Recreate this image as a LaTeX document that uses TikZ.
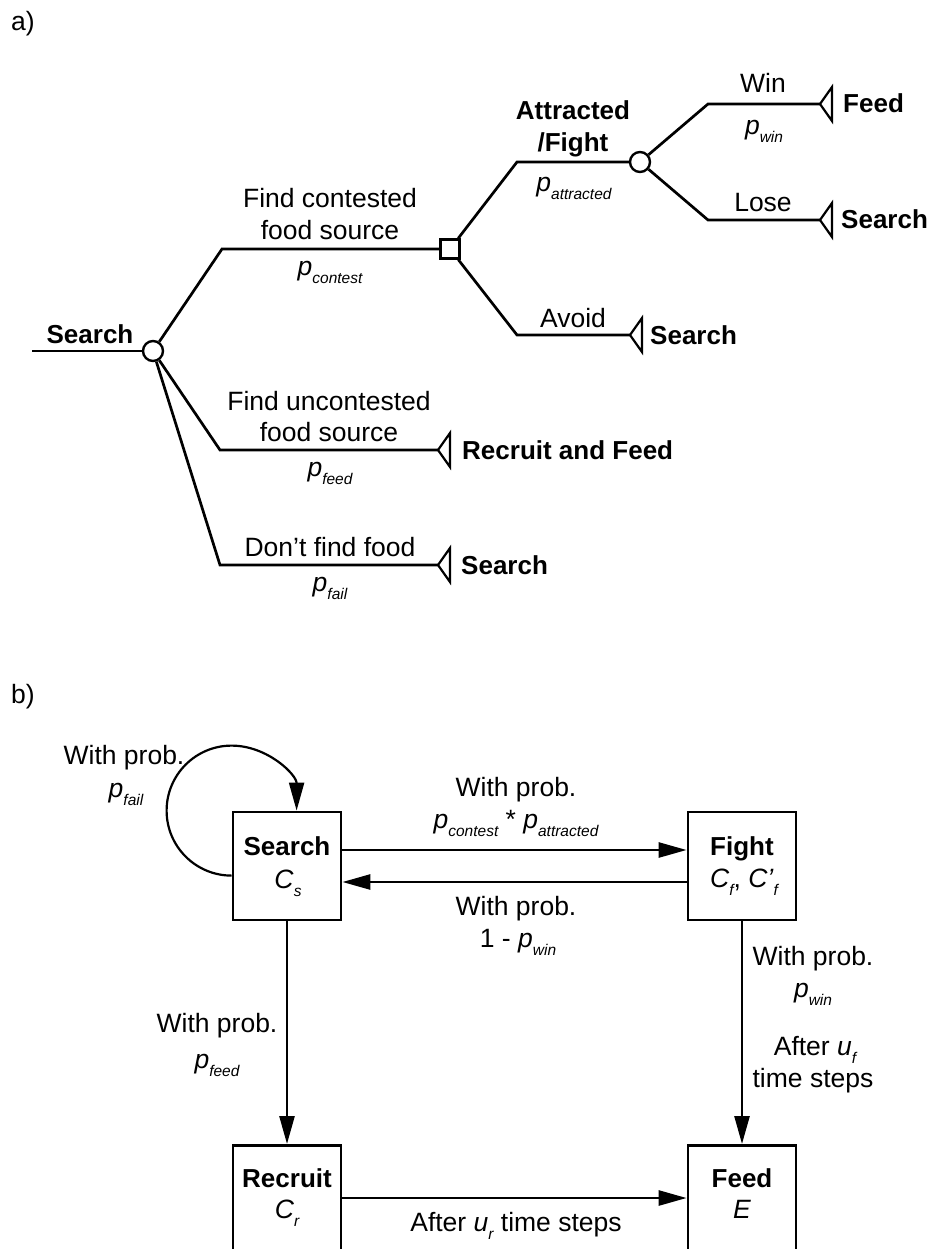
\documentclass[tikz,border=0pt]{standalone}
\usepackage{fontspec}
\setmainfont{Liberation Sans}
\usetikzlibrary{arrows.meta,calc}
\newcommand{\sbs}[1]{\raisebox{-8pt}{\fontsize{15.5}{16}\selectfont\itshape #1}}
\newcommand{\pv}[1]{\textit{p}\sbs{#1}}
\begin{document}
\begin{tikzpicture}[x=1pt,y=-1pt,
  lbl/.style={font=\fontsize{26.5}{32}\selectfont, inner sep=0pt, anchor=base},
  blbl/.style={lbl, font=\fontsize{26}{32}\selectfont\bfseries},
  wlbl/.style={blbl, anchor=base west},
  branch/.style={line width=2.7pt, line join=miter},
  chance/.style={circle, draw, line width=2.4pt, minimum size=20pt, inner sep=0pt},
  decision/.style={rectangle, draw, line width=2.4pt, minimum size=19pt, inner sep=0pt},
  term/.pic={\draw[line width=2.2pt, line join=miter] (0,0) -- (12,-17) -- (12,17) -- cycle;},
  statebox/.style={rectangle, draw, line width=2.8pt, minimum width=108pt, minimum height=108pt, inner sep=0pt},
  arr/.style={line width=2.6pt, -{Triangle[length=28pt,width=15pt]}},
  selfarc/.style={line width=2.2pt, -{Triangle[length=28pt,width=15pt]}},
]
\useasboundingbox (0,0) rectangle (932,1249);
\clip (0,0) rectangle (932,1249);

% ---------- part a ----------
\node[lbl, anchor=base west] (la) at (11,31) {a)};

\coordinate (r0) at (32,351);
\node[chance] (c1) at (153,351) {};
\node[blbl] (lsearch) at (90,343) {Search};
\draw[branch] (r0) -- (c1);

% contested
\coordinate (k1) at (222,249);
\node[decision] (sq) at (450,249) {};
\draw[branch] (c1) -- (k1) -- (sq);
\node[lbl] (l1a) at (330,208) {Find contested};
\node[lbl] (l1b) at (330,240) {food source};
\node[lbl] (l1p) at (330,275) {\pv{contest}};

% uncontested
\coordinate (k2) at (220,450);
\coordinate (t2) at (438,450);
\draw[branch] (c1) -- (k2) -- (t2);
\pic at (t2) {term};
\node[lbl] (l2a) at (329,410) {Find uncontested};
\node[lbl] (l2b) at (329,441) {food source};
\node[lbl] (l2p) at (330,476) {\pv{feed}};
\node[wlbl] (e2) at (462,459) {Recruit and Feed};

% fail
\coordinate (k3) at (220,565);
\coordinate (t3) at (438,565);
\draw[branch] (c1) -- (k3) -- (t3);
\pic at (t3) {term};
\node[lbl] (l3a) at (330,556) {Don’t find food};
\node[lbl] (l3p) at (330,591) {\pv{fail}};
\node[wlbl] (e3) at (461,574) {Search};

% attracted / fight
\coordinate (k4) at (517,162);
\node[chance] (c2) at (640,162) {};
\draw[branch] (sq) -- (k4) -- (c2);
\node[blbl] (l4a) at (573,120) {Attracted};
\node[blbl] (l4b) at (573,152) {/Fight};
\node[lbl] (l4p) at (574,192) {\pv{attracted}};

% win
\coordinate (k6) at (708,104);
\coordinate (t6) at (820,104);
\draw[branch] (c2) -- (k6) -- (t6);
\pic at (t6) {term};
\node[lbl] (l6a) at (763,93) {Win};
\node[lbl] (l6p) at (764,135) {\pv{win}};
\node[wlbl] (e6) at (843,113) {Feed};

% lose
\coordinate (k7) at (708,220);
\coordinate (t7) at (820,220);
\draw[branch] (c2) -- (k7) -- (t7);
\pic at (t7) {term};
\node[lbl] (l7a) at (763,212) {Lose};
\node[wlbl] (e7) at (841,229) {Search};

% avoid
\coordinate (k5) at (517,335);
\coordinate (t5) at (630,335);
\draw[branch] (sq) -- (k5) -- (t5);
\pic at (t5) {term};
\node[lbl] (l5a) at (573,327) {Avoid};
\node[wlbl] (e5) at (650,344) {Search};

% ---------- part b ----------
\node[lbl, anchor=base west] (lb) at (11,703) {b)};

\node[statebox] (search) at (287,866) {};
\node[blbl] (searchA) at (287,855) {Search};
\node[lbl] (searchB) at (288,888) {\textit{C}\sbs{s}};

\node[statebox] (fight) at (742,866) {};
\node[blbl] (fightA) at (742,855) {Fight};
\node[lbl] (fightB) at (744,887) {\textit{C}\sbs{f}, \textit{C’}\sbs{f}};

\node[statebox, minimum height=130pt, anchor=north] (recruit) at (287,1144) {};
\node[blbl] (recruitA) at (287,1187) {Recruit};
\node[lbl] (recruitB) at (287,1218) {\textit{C}\sbs{r}};

\node[statebox, minimum height=130pt, anchor=north] (feed) at (742,1144) {};
\node[blbl] (feedA) at (742,1187) {Feed};
\node[lbl] (feedB) at (742,1218) {\textit{E}};

\draw[arr] ($(search.east)+(0,-16)$) -- ($(fight.west)+(0,-16)$);
\draw[arr] ($(fight.west)+(0,16)$) -- ($(search.east)+(0,16)$);
\draw[arr] (search) -- (recruit);
\draw[arr] (fight) -- (feed);
\draw[arr] ($(recruit.north east)+(0,54)$) -- ($(feed.north west)+(0,54)$);

\coordinate (nw) at (search.north west);
\draw[selfarc] ($(nw)+(0,65)$)
  .. controls ($(nw)+(-35.9,65)$) and ($(nw)+(-65,35.9)$) .. ($(nw)+(-65,0)$)
  .. controls ($(nw)+(-65,-35.9)$) and ($(nw)+(-35.9,-65)$) .. ($(nw)+(0,-65)$)
  .. controls ($(nw)+(35.9,-65)$) and ($(nw)+(65,-35.9)$) .. ($(nw)+(65,0)$);

\node[lbl] (b1) at (124,764) {With prob.};
\node[lbl] (b2) at (126,797) {\pv{fail}};
\node[lbl] (b3) at (516,796) {With prob.};
\node[lbl] (b4) at (516,828) {\pv{contest} * \pv{attracted}};
\node[lbl] (b5) at (516,915) {With prob.};
\node[lbl] (b6) at (518,947) {1 - \pv{win}};
\node[lbl] (b7) at (813,965) {With prob.};
\node[lbl] (b8) at (813,997) {\pv{win}};
\node[lbl] (b9) at (815,1055) {After \textit{u}\sbs{f}};
\node[lbl] (b10) at (813,1087) {time steps};
\node[lbl] (b11) at (217,1032) {With prob.};
\node[lbl] (b12) at (217,1068) {\pv{feed}};
\node[lbl] (b13) at (516,1231) {After \textit{u}\sbs{r} time steps};
\end{tikzpicture}
\end{document}
